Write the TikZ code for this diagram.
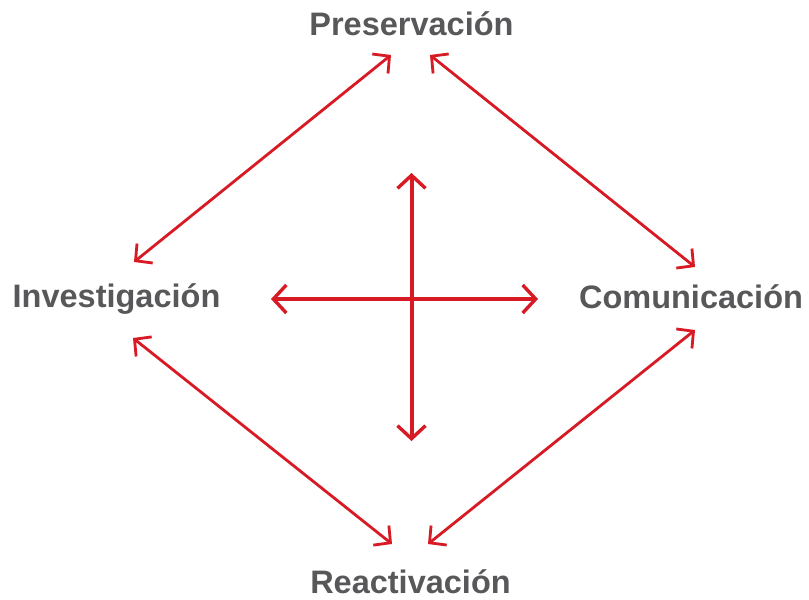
\documentclass[tikz,border=0pt]{standalone}
\usepackage{fontspec}
\setmainfont{Liberation Sans}
\usetikzlibrary{arrows.meta}
\definecolor{arrowred}{HTML}{D71A23}
\definecolor{labelgray}{HTML}{58585A}
\begin{document}
\begin{tikzpicture}[x=1pt,y=-1pt,
  label/.style={font=\fontsize{32.5}{36}\selectfont\bfseries, text=labelgray, inner sep=0pt, anchor=base},
  diag/.style={draw=arrowred, line width=2.8pt, {Straight Barb[length=12pt,width=25pt,line width=2.8pt]}-{Straight Barb[length=12pt,width=25pt,line width=2.8pt]}},
  cross/.style={draw=arrowred, line width=4pt, {Straight Barb[length=13pt,width=28pt,line width=3.4pt]}-{Straight Barb[length=13pt,width=28pt,line width=3.4pt]}}
]
\useasboundingbox (0,0) rectangle (809,600);
\node[label] (P) at (411.5,35) {Preservación};
\node[label] (I) at (116.5,307) {Investigación};
\node[label] (C) at (691,308) {Comunicación};
\node[label] (R) at (410.5,593) {Reactivación};
% arrow end points
\coordinate (ip) at (134,262);
\coordinate (pi) at (391,55);
\coordinate (pc) at (430,55);
\coordinate (cp) at (695,267);
\coordinate (ir) at (133,338);
\coordinate (ri) at (392,544);
\coordinate (rc) at (428,544);
\coordinate (cr) at (695,330);
\coordinate (hl) at (271,299);
\coordinate (hr) at (538,299);
\coordinate (vt) at (411.5,173);
\coordinate (vb) at (411.5,441);
\draw[diag] (ip) -- (pi);
\draw[diag] (pc) -- (cp);
\draw[diag] (ir) -- (ri);
\draw[diag] (rc) -- (cr);
\draw[cross] (hl) -- (hr);
\draw[cross] (vt) -- (vb);
\end{tikzpicture}
\end{document}
